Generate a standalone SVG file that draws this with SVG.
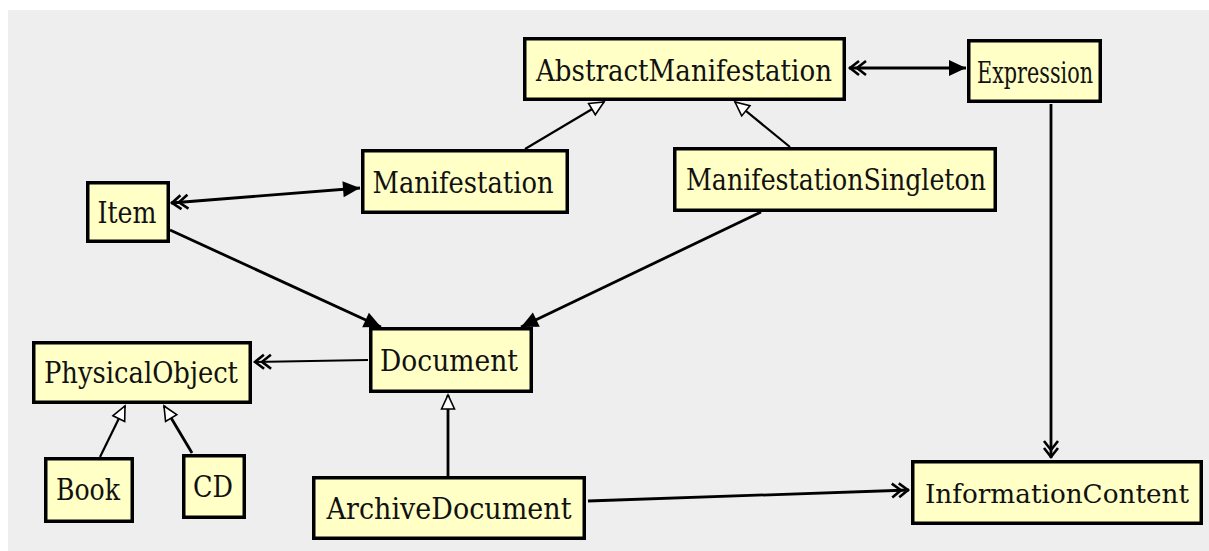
<svg xmlns="http://www.w3.org/2000/svg" width="1209" height="551" viewBox="0 0 1209 551">
<style>
.box{fill:#ffffc6;stroke:#000;stroke-width:3.5}
.lbl{font-family:"DejaVu Serif","Liberation Serif",serif;font-size:29px;fill:#111;text-anchor:middle}
.assoc{stroke:#000;stroke-width:2.8;fill:none}
.gen{stroke:#000;stroke-width:2.2;fill:none}
.thin{stroke:#000;stroke-width:1.8;fill:none}
</style>
<defs>
<marker id="fill" markerUnits="userSpaceOnUse" markerWidth="18" markerHeight="16" refX="17" refY="8" orient="auto-start-reverse" overflow="visible">
<path d="M0,0 L17,8 L0,16 z" fill="#000"/>
</marker>
<marker id="dbl" markerUnits="userSpaceOnUse" markerWidth="20" markerHeight="16" refX="18" refY="7" orient="auto-start-reverse" overflow="visible">
<path d="M1,0 L10,7 L1,14 M8,0 L17,7 L8,14" fill="none" stroke="#000" stroke-width="2.6"/>
</marker>
<marker id="hollow" markerUnits="userSpaceOnUse" markerWidth="16" markerHeight="14" refX="15" refY="7" orient="auto" overflow="visible">
<path d="M1,0.5 L15,7 L1,13.5 z" fill="#fff" stroke="#000" stroke-width="1.6"/>
</marker>
</defs>
<rect x="0" y="0" width="1209" height="551" fill="#fff"/>
<rect x="8" y="10" width="1201" height="541" fill="#eeeeee"/>
<g id="connectors">
<line class="assoc" x1="849" y1="68" x2="966" y2="68" marker-start="url(#dbl)" marker-end="url(#fill)"/>
<line class="assoc" x1="171" y1="203" x2="360" y2="188" marker-start="url(#dbl)" marker-end="url(#fill)"/>
<line class="gen" x1="525" y1="149" x2="604" y2="102" marker-end="url(#hollow)"/>
<line class="gen" x1="790" y1="147" x2="735" y2="102" marker-end="url(#hollow)"/>
<line class="assoc" x1="170" y1="230" x2="381" y2="327" marker-end="url(#fill)"/>
<line class="assoc" x1="761" y1="212" x2="521" y2="327" marker-end="url(#fill)"/>
<line class="thin" x1="368" y1="360" x2="254" y2="362" marker-end="url(#dbl)"/>
<line class="gen" x1="100" y1="457" x2="125" y2="406" marker-end="url(#hollow)"/>
<line class="assoc" x1="192" y1="453" x2="164" y2="406" marker-end="url(#hollow)"/>
<line class="assoc" x1="448" y1="476" x2="448" y2="395" marker-end="url(#hollow)"/>
<line class="assoc" x1="588" y1="501" x2="909" y2="490" marker-end="url(#dbl)"/>
<line class="assoc" x1="1051" y1="104" x2="1051" y2="458" marker-end="url(#dbl)"/>
</g>
<g id="AbstractManifestation">
<rect class="box" x="524.75" y="38.75" width="319.5" height="60.5"/>
<text class="lbl" x="684" y="81" textLength="296" lengthAdjust="spacingAndGlyphs">AbstractManifestation</text>
</g>
<g id="Expression">
<rect class="box" x="968.75" y="40.75" width="131.5" height="60.5"/>
<text class="lbl" x="1035" y="83" textLength="116" lengthAdjust="spacingAndGlyphs">Expression</text>
</g>
<g id="Manifestation">
<rect class="box" x="362.75" y="150.75" width="204.5" height="61.5"/>
<text class="lbl" x="463" y="193" textLength="181" lengthAdjust="spacingAndGlyphs">Manifestation</text>
</g>
<g id="ManifestationSingleton">
<rect class="box" x="674.75" y="148.75" width="320.5" height="61.5"/>
<text class="lbl" x="836" y="190" textLength="300" lengthAdjust="spacingAndGlyphs">ManifestationSingleton</text>
</g>
<g id="Item">
<rect class="box" x="87.75" y="182.75" width="80.5" height="58.5"/>
<text class="lbl" x="127" y="223" textLength="59" lengthAdjust="spacingAndGlyphs">Item</text>
</g>
<g id="Document">
<rect class="box" x="370.75" y="328.75" width="160.5" height="62.5"/>
<text class="lbl" x="449" y="371" textLength="138" lengthAdjust="spacingAndGlyphs">Document</text>
</g>
<g id="PhysicalObject">
<rect class="box" x="33.75" y="342.75" width="216.5" height="59.5"/>
<text class="lbl" x="141" y="383" textLength="194" lengthAdjust="spacingAndGlyphs">PhysicalObject</text>
</g>
<g id="Book">
<rect class="box" x="45.75" y="458.75" width="86.5" height="62.5"/>
<text class="lbl" x="88" y="500" textLength="64" lengthAdjust="spacingAndGlyphs">Book</text>
</g>
<g id="CD">
<rect class="box" x="183.75" y="455.75" width="60.5" height="61.5"/>
<text class="lbl" x="213" y="497" textLength="40" lengthAdjust="spacingAndGlyphs">CD</text>
</g>
<g id="ArchiveDocument">
<rect class="box" x="313.75" y="477.75" width="270.5" height="60.5"/>
<text class="lbl" x="449" y="519" textLength="245" lengthAdjust="spacingAndGlyphs">ArchiveDocument</text>
</g>
<g id="InformationContent">
<rect class="box" x="912.75" y="461.75" width="288.5" height="61.5"/>
<text class="lbl" x="1057" y="503" style="font-size:26.5px" textLength="264" lengthAdjust="spacingAndGlyphs">InformationContent</text>
</g>
</svg>
